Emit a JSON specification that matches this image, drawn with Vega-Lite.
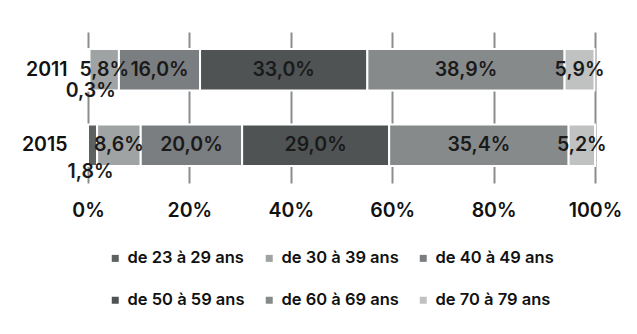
{
  "$schema": "https://vega.github.io/schema/vega-lite/v6.json",
  "width": 507,
  "height": 151,
  "autosize": {"type": "none"},
  "padding": {"left": 88, "top": 32, "right": 42, "bottom": 151},
  "background": "white",
  "config": {
    "font": "Inter",
    "view": {"stroke": null},
    "locale": {"number": {"decimal": ",", "thousands": " ", "grouping": [3], "currency": ["", " €"]}}
  },
  "data": {
    "values": [
      {"annee": "2011", "tranche": "de 23 à 29 ans", "part": 0.003},
      {"annee": "2011", "tranche": "de 30 à 39 ans", "part": 0.058},
      {"annee": "2011", "tranche": "de 40 à 49 ans", "part": 0.160},
      {"annee": "2011", "tranche": "de 50 à 59 ans", "part": 0.330},
      {"annee": "2011", "tranche": "de 60 à 69 ans", "part": 0.389},
      {"annee": "2011", "tranche": "de 70 à 79 ans", "part": 0.059},
      {"annee": "2015", "tranche": "de 23 à 29 ans", "part": 0.018},
      {"annee": "2015", "tranche": "de 30 à 39 ans", "part": 0.086},
      {"annee": "2015", "tranche": "de 40 à 49 ans", "part": 0.200},
      {"annee": "2015", "tranche": "de 50 à 59 ans", "part": 0.290},
      {"annee": "2015", "tranche": "de 60 à 69 ans", "part": 0.354},
      {"annee": "2015", "tranche": "de 70 à 79 ans", "part": 0.052}
    ]
  },
  "transform": [
    {"stack": "part", "groupby": ["annee"], "sort": [{"field": "tranche", "order": "ascending"}], "as": ["debut", "fin"]},
    {"calculate": "(datum.debut + datum.fin) / 2", "as": "milieu"}
  ],
  "encoding": {
    "y": {
      "field": "annee",
      "type": "nominal",
      "scale": {"paddingInner": 0.45, "paddingOuter": 0.225},
      "axis": {
        "title": null,
        "ticks": false,
        "domain": false,
        "labelPadding": 21,
        "labelFontSize": 19.5,
        "labelFontWeight": 600,
        "labelColor": "#111111"
      }
    }
  },
  "layer": [
    {
      "mark": {"type": "bar", "stroke": "white", "strokeWidth": 2},
      "encoding": {
        "x": {
          "field": "debut",
          "type": "quantitative",
          "scale": {"domain": [0, 1], "nice": false},
          "axis": {
            "title": null,
            "values": [0, 0.2, 0.4, 0.6, 0.8, 1],
            "format": ".0%",
            "grid": true,
            "gridColor": "#8a8d8e",
            "gridWidth": 2,
            "ticks": false,
            "domain": false,
            "labelFlush": false,
            "labelPadding": 18,
            "labelFontSize": 19.5,
            "labelFontWeight": 600,
            "labelColor": "#111111"
          }
        },
        "x2": {"field": "fin"},
        "color": {
          "field": "tranche",
          "type": "nominal",
          "scale": {
            "domain": ["de 23 à 29 ans", "de 30 à 39 ans", "de 40 à 49 ans", "de 50 à 59 ans", "de 60 à 69 ans", "de 70 à 79 ans"],
            "range": ["#5d6162", "#a0a3a4", "#7b7e80", "#4f5354", "#878a8b", "#c0c1c1"]
          },
          "legend": {
            "title": null,
            "orient": "none",
            "direction": "horizontal",
            "legendX": 19,
            "legendY": 218,
            "columns": 3,
            "padding": 0,
            "symbolType": "square",
            "symbolSize": 49,
            "symbolStrokeWidth": 0,
            "columnPadding": 16,
            "rowPadding": 25,
            "labelOffset": 4,
            "labelFontSize": 16.5,
            "labelFontWeight": 600,
            "labelColor": "#111111"
          }
        }
      }
    },
    {
      "transform": [{"filter": "datum.part >= 0.03"}],
      "mark": {"type": "text", "align": "center", "baseline": "middle", "fontSize": 19.5, "fontWeight": 600, "color": "#1a1a1a"},
      "encoding": {
        "x": {"field": "milieu", "type": "quantitative"},
        "text": {"field": "part", "type": "quantitative", "format": ".1%"}
      }
    },
    {
      "transform": [{"filter": "datum.part < 0.03 && datum.annee == '2011'"}],
      "mark": {"type": "text", "align": "center", "baseline": "middle", "dy": 21, "dx": 2, "fontSize": 19.5, "fontWeight": 600, "color": "#1a1a1a"},
      "encoding": {
        "x": {"field": "milieu", "type": "quantitative"},
        "text": {"field": "part", "type": "quantitative", "format": ".1%"}
      }
    },
    {
      "transform": [{"filter": "datum.part < 0.03 && datum.annee == '2015'"}],
      "mark": {"type": "text", "align": "center", "baseline": "middle", "dy": 27, "dx": -2, "fontSize": 19.5, "fontWeight": 600, "color": "#1a1a1a"},
      "encoding": {
        "x": {"field": "milieu", "type": "quantitative"},
        "text": {"field": "part", "type": "quantitative", "format": ".1%"}
      }
    }
  ]
}
